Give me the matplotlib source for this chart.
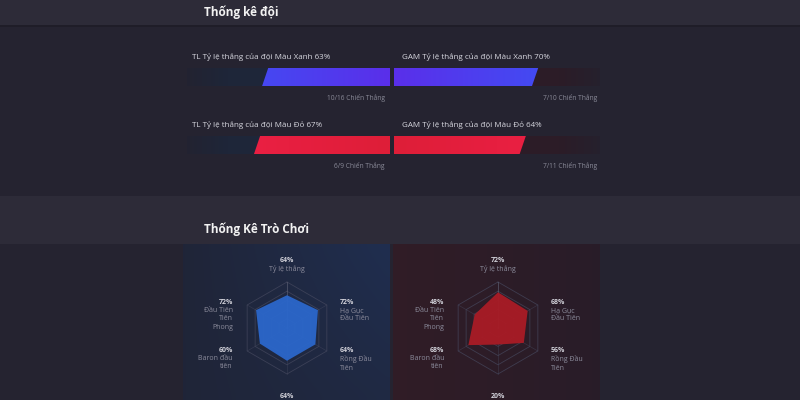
import matplotlib.pyplot as plt
import numpy as np
from matplotlib.patches import Polygon, Rectangle
from matplotlib.colors import LinearSegmentedColormap

plt.rcParams['font.family'] = ['Open Sans', 'DejaVu Sans']

# Team win-rate bars (TL on the left grows from the centre, GAM on the right)
bar_titles = ['TL Tỷ lệ thắng của đội Màu Xanh 63%', 'GAM Tỷ lệ thắng của đội Màu Xanh 70%',
              'TL Tỷ lệ thắng của đội Màu Đỏ 67%', 'GAM Tỷ lệ thắng của đội Màu Đỏ 64%']
bar_values = [63, 70, 67, 64]
bar_records = ['10/16 Chiến Thắng', '7/10 Chiến Thắng', '6/9 Chiến Thắng', '7/11 Chiến Thắng']

# Game stats radar
radar_pct = ['64%', '72%', '64%', '64%', '60%', '72%']
radar_names = ['Tỷ lệ thắng', 'Hạ Gục\nĐầu Tiên', 'Rồng Đầu\nTiên', '', 'Baron đầu\ntiên', 'Đầu Tiên\nTiên\nPhong']
blue_values = [64, 72, 64, 64, 60, 72]
red_pct = ['72%', '68%', '56%', '20%', '68%', '48%']
red_values = [72, 68, 56, 20, 68, 48]

W, H = 800, 400
BG = '#252330'
BAND = '#2d2b38'


def box(x0, y0, x1, y1):
    return [x0 / W, 1 - y1 / H, (x1 - x0) / W, (y1 - y0) / H]


fig = plt.figure(figsize=(8, 4), dpi=100, facecolor=BG)
bg = fig.add_axes([0, 0, 1, 1])
bg.set_xlim(0, W)
bg.set_ylim(H, 0)
bg.axis('off')

bg.add_patch(Rectangle((0, 0), W, 25, color=BAND, lw=0))
bg.add_patch(Rectangle((0, 25), W, 2, color='#1f1d28', lw=0))
bg.add_patch(Rectangle((0, 196), W, 48, color=BAND, lw=0))
bg.text(204, 12, 'Thống kê đội', color='#f2f2f2', fontsize=8.5, fontweight='bold', va='center')
bg.text(204, 229, 'Thống Kê Trò Chơi', color='#f2f2f2', fontsize=8.5, fontweight='bold', va='center')

# radar panels
left_grad = np.zeros((20, 40, 3))
right_grad = np.zeros((20, 40, 3))
for i in range(20):
    for j in range(40):
        t = j / 39
        v = 1 - i / 19 * 0.5
        left_grad[i, j] = np.array([0.125, 0.145 + 0.035 * t * v, 0.22 + 0.09 * t * v])
        right_grad[i, j] = np.array([0.19 - 0.03 * t, 0.11, 0.15 + 0.01 * t])
bg.imshow(left_grad, extent=[183, 390, 400, 244], aspect='auto', interpolation='bicubic', zorder=1)
bg.imshow(right_grad, extent=[393, 600, 400, 244], aspect='auto', interpolation='bicubic', zorder=1)
bg.set_xlim(0, W)
bg.set_ylim(H, 0)

blue_cmap = LinearSegmentedColormap.from_list('b', ['#5a2fea', '#3a56f6'])
red_cmap = LinearSegmentedColormap.from_list('r', ['#de1e38', '#f02048'])
tracks = [(187, 390, 68, 86), (394, 600, 68, 86), (187, 390, 136, 154), (394, 600, 136, 154)]
grad = np.linspace(0, 1, 256).reshape(1, -1)
slant = 3

for k, (title, val, rec) in enumerate(zip(bar_titles, bar_values, bar_records)):
    x0, x1, y0, y1 = tracks[k]
    left = k % 2 == 0
    ax = fig.add_axes(box(x0, y0, x1, y1))
    ax.axis('off')
    track = '#1e2639' if left else '#2c1c27'
    ax.imshow(np.ones((1, 2)), extent=[0, 100, 0, 1], aspect='auto',
              cmap=LinearSegmentedColormap.from_list('t', [track, track]), zorder=1)
    fade = np.zeros((1, 256, 4))
    fade[..., :3] = np.array([0.145, 0.137, 0.188])
    fade[0, :, 3] = np.clip((grad[0] - 0.8) / 0.2, 0, 1) * 0.8
    ax.imshow(fade, extent=[0, 100, 0, 1], aspect='auto', zorder=2)
    if left:
        verts = [(0, 0), (val, 0), (val - slant, 1), (0, 1)]
    else:
        verts = [(0, 0), (val - slant, 0), (val, 1), (0, 1)]
    poly = Polygon(verts, closed=True, facecolor='none', edgecolor='none')
    ax.add_patch(poly)
    cmap = blue_cmap if k < 2 else red_cmap
    im = ax.imshow(grad, extent=[0, 100, 0, 1], aspect='auto', cmap=cmap, zorder=3)
    im.set_clip_path(poly)
    ax.set_xlim((100, 0) if left else (0, 100))
    ax.set_ylim(0, 1)
    tx = 192 if left else 402
    rx = 385 if left else 597
    bg.text(tx, y0 - 11, title, color='#d8d8e0', fontsize=5.8, va='center')
    bg.text(rx, y1 + 12, rec, color='#8a8a98', fontsize=4.8, va='center', ha='right')

# radar charts
theta = np.linspace(0, 2 * np.pi, 6, endpoint=False)
theta_c = np.append(theta, theta[0])
R = 46
RMIN = -25
offsets = [(0, -68, 'center'), (53, -26, 'left'), (53, 22, 'left'),
           (0, 69, 'center'), (-54, 22, 'right'), (-54, -26, 'right')]

for cx, values, pcts, fill in [(287, blue_values, radar_pct, '#2b67cb'),
                               (498, red_values, red_pct, '#a91b25')]:
    cy = 328
    ax = fig.add_axes(box(cx - R, cy - R, cx + R, cy + R), projection='polar')
    ax.set_theta_zero_location('N')
    ax.set_theta_direction(-1)
    ax.axis('off')
    for r in [0, 25, 50, 75, 100]:
        ax.plot(theta_c, [r] * 7, color='#474a60', lw=0.6, alpha=0.7, clip_on=False)
    for t in theta:
        ax.plot([t, t], [RMIN, 100], color='#474a60', lw=0.5, alpha=0.5, clip_on=False)
    ax.plot([0, 0], [RMIN, 100], color='#6a6d80', lw=0.5, alpha=0.6, clip_on=False)
    ax.fill(theta_c, np.append(values, values[0]), color=fill, alpha=0.95, lw=0, zorder=3)
    ax.set_ylim(RMIN, 100)
    for (dx, dy, ha), pct, name in zip(offsets, pcts, radar_names):
        bg.text(cx + dx, cy + dy, pct, color='#d0d0d8', fontsize=5, fontweight='bold',
                ha=ha, va='center', zorder=5)
        if name:
            bg.text(cx + dx, cy + dy + 5, name, color='#8c8c9c', fontsize=5, ha=ha,
                    va='top', linespacing=1.3, zorder=5)

fig.savefig('out.png', dpi=100, facecolor=BG)
